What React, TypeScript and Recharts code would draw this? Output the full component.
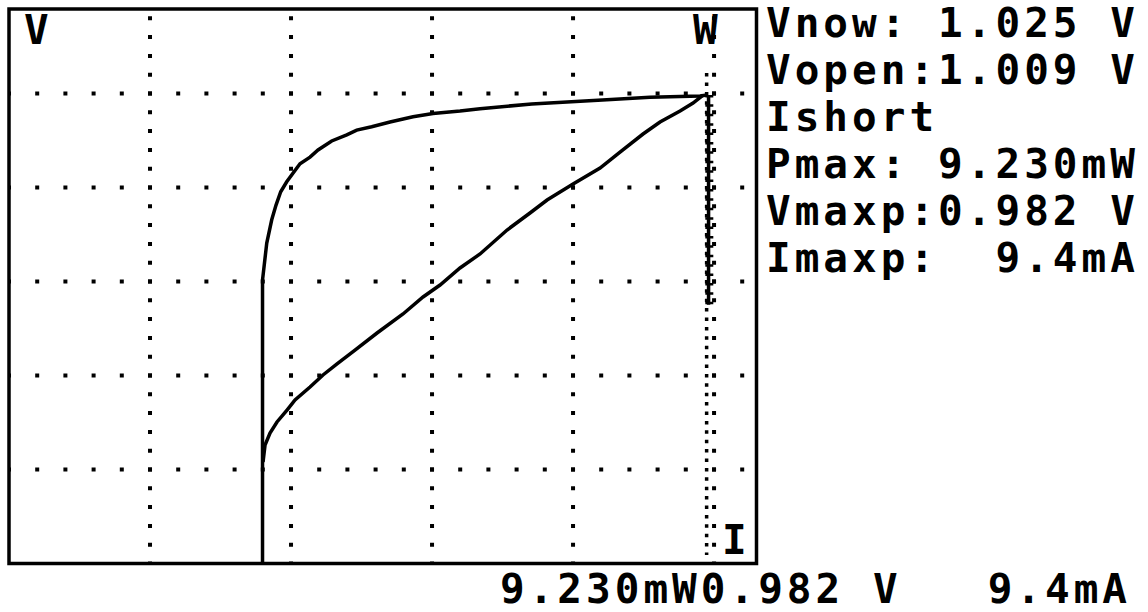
import React from 'react';
import {
    LineChart,
    Line,
    XAxis,
    YAxis,
    ReferenceLine,
    ReferenceArea
} from 'recharts';

// one grid division on the tracer screen
const I_PER_DIV = 1.9;   // mA
const V_PER_DIV = 0.198; // V
const P_PER_DIV = 1.852; // mW
const X_DIVS = 5.301;
const Y_DIVS = 5.899;

const X_MAX = X_DIVS * I_PER_DIV;
const V_MAX = Y_DIVS * V_PER_DIV;
const P_MAX = Y_DIVS * P_PER_DIV;

const gridDivs = [1, 2, 3, 4, 5];
const xTicks = gridDivs.map((d) => +(d * I_PER_DIV).toFixed(3));
const yTicks = gridDivs.map((d) => +(d * V_PER_DIV).toFixed(3));

// V curve (mA / V)
const vCurveI = [3.416, 3.416, 3.473, 3.540, 3.598, 3.661, 3.742, 3.831, 3.921, 4.056, 4.164, 4.348, 4.551, 4.685, 4.887, 5.134, 5.444, 5.713, 6.077, 6.347, 7.043, 8.054, 8.637, 9.311, 9.406];
const vCurveV = [0, 0.597, 0.675, 0.724, 0.755, 0.783, 0.804, 0.823, 0.842, 0.856, 0.871, 0.890, 0.903, 0.913, 0.920, 0.930, 0.941, 0.948, 0.953, 0.958, 0.968, 0.977, 0.982, 0.985, 0.987];

// W curve (mA / mW)
const pCurveI = [3.423, 3.450, 3.517, 3.611, 3.746, 3.854, 4.056, 4.231, 4.420, 4.662, 4.959, 5.309, 5.579, 5.808, 6.077, 6.347, 6.711, 7.020, 7.250, 7.600, 7.964, 8.233, 8.543, 8.772, 9.042, 9.217, 9.352];
const pCurveP = [2.000, 2.335, 2.571, 2.788, 3.024, 3.221, 3.477, 3.714, 3.931, 4.206, 4.541, 4.916, 5.251, 5.487, 5.822, 6.098, 6.571, 6.906, 7.162, 7.477, 7.792, 8.107, 8.462, 8.699, 8.915, 9.073, 9.230];

// end of sweep: voltage falls at constant current
const dropI = 9.426;
const dropV = [0.987, 0.545];

// Imaxp cursor
const cursorI = 9.4;
const cursorV = [1.033, 0.018];

const readouts = [
    'Vnow: 1.025 V',
    'Vopen:1.009 V',
    'Ishort',
    'Pmax: 9.230mW',
    'Vmaxp:0.982 V',
    'Imaxp:  9.4mA'
];
const footer = '9.230mW0.982 V   9.4mA';

const vCurve = vCurveI.map((i, k) => ({ i, v: vCurveV[k] }));
const pCurve = pCurveI.map((i, k) => ({ i, p: pCurveP[k] }));

const lcdFont: React.CSSProperties = {
    position: 'absolute',
    fontFamily: '"DejaVu Sans Mono", monospace',
    fontWeight: 'bold',
    fontSize: 41,
    letterSpacing: 4,
    lineHeight: '47px',
    color: '#000',
    whiteSpace: 'pre',
    margin: 0
};

const App: React.FC = () => {
    return (
        <div style={{ position: 'absolute', left: 0, top: 0, width: 1148, height: 612, background: '#fff', overflow: 'hidden' }}>
            <LineChart width={1148} height={612} margin={{ top: 9, right: 391.5, bottom: 48.5, left: 9 }}>
                <XAxis type="number" dataKey="i" domain={[0, X_MAX]} ticks={xTicks} allowDataOverflow hide />
                <YAxis yAxisId="v" type="number" domain={[0, V_MAX]} ticks={yTicks} allowDataOverflow hide />
                <YAxis yAxisId="p" type="number" domain={[0, P_MAX]} allowDataOverflow hide />

                {/* dotted grid, drawn left->right and bottom->top */}
                {yTicks.map((t) => (
                    <ReferenceLine key={`gy-${t}`} yAxisId="v" segment={[{ x: 0, y: t }, { x: X_MAX, y: t }]}
                        stroke="#000" strokeWidth={4} strokeDasharray="4 24.2" strokeDashoffset={2} />
                ))}
                {xTicks.map((t) => (
                    <ReferenceLine key={`gx-${t}`} yAxisId="v" segment={[{ x: t, y: 0 }, { x: t, y: V_MAX }]}
                        stroke="#000" strokeWidth={4} strokeDasharray="4 14.8" strokeDashoffset={2} />
                ))}

                <ReferenceLine yAxisId="v" segment={[{ x: cursorI, y: cursorV[0] }, { x: cursorI, y: cursorV[1] }]}
                    stroke="#000" strokeWidth={3.5} strokeDasharray="3.5 5.9" />

                <Line data={vCurve} dataKey="v" yAxisId="v" type="linear" stroke="#000" strokeWidth={3.5}
                    dot={false} activeDot={false} isAnimationActive={false} />
                <Line data={pCurve} dataKey="p" yAxisId="p" type="linear" stroke="#000" strokeWidth={3.5}
                    dot={false} activeDot={false} isAnimationActive={false} />

                <ReferenceLine yAxisId="v" segment={[{ x: dropI, y: dropV[0] }, { x: dropI, y: dropV[1] }]}
                    stroke="#000" strokeWidth={3.5} />
                <ReferenceLine yAxisId="v" segment={[{ x: dropI + 0.01, y: dropV[0] }, { x: dropI + 0.01, y: dropV[1] }]}
                    stroke="#000" strokeWidth={8} strokeDasharray="2.5 6.9" />

                <ReferenceArea yAxisId="v" x1={0} x2={X_MAX} y1={0} y2={V_MAX}
                    fill="none" fillOpacity={0} stroke="#000" strokeWidth={3.5} ifOverflow="visible" />
            </LineChart>

            <div style={{ ...lcdFont, left: 24, top: 7 }}>V</div>
            <div style={{ ...lcdFont, left: 693, top: 7 }}>W</div>
            <div style={{ ...lcdFont, left: 722, top: 517 }}>I</div>

            <div style={{ ...lcdFont, left: 766, top: 0 }}>
                {readouts.map((r) => <div key={r}>{r}</div>)}
            </div>
            <div style={{ ...lcdFont, left: 500, top: 566 }}>{footer}</div>
        </div>
    );
};

export default App;
